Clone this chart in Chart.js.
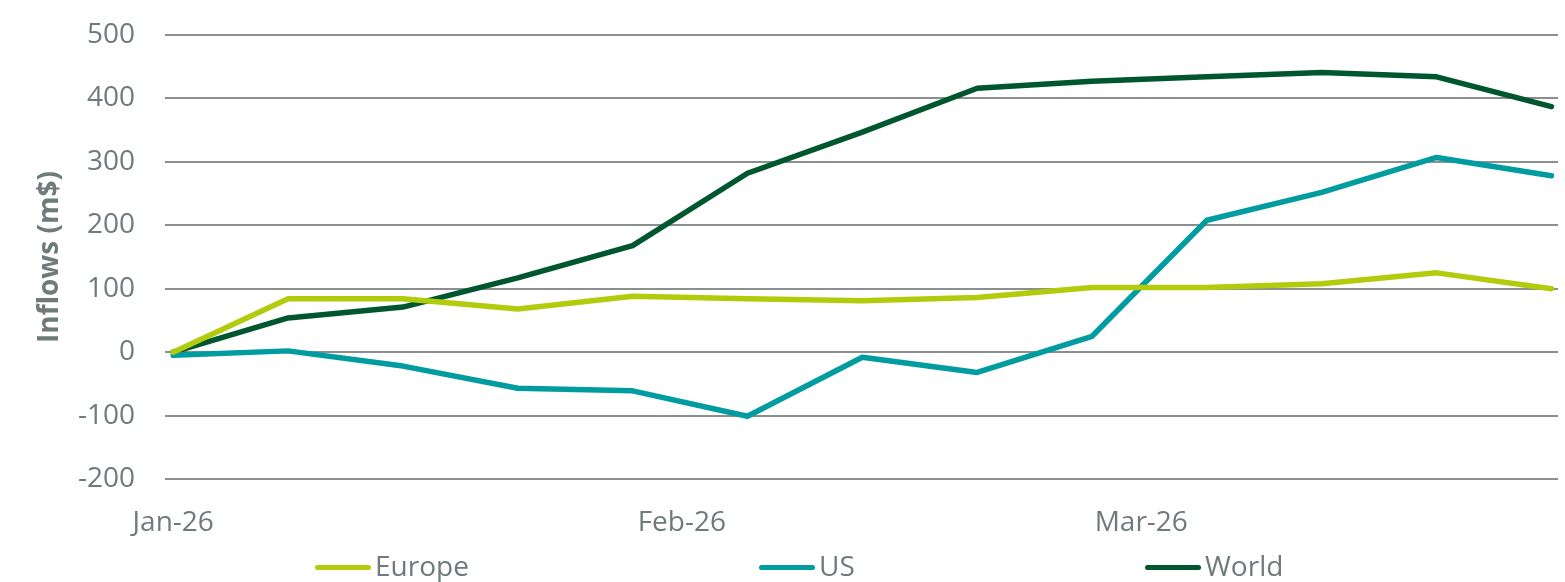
<!DOCTYPE html>
<html>
<head>
<meta charset="utf-8">
<script src="https://cdn.jsdelivr.net/npm/chart.js@4"></script>
<style>
  body { margin: 0; background: #fff; }
  #wrap { position: relative; width: 1565px; height: 582px; }
  .leg { position: absolute; top: 547px; font-family: "Open Sans", sans-serif; font-size: 28px; color: #6f7b7b; line-height: 36px; white-space: nowrap; }
  .leg span { display: inline-block; width: 56px; height: 5px; border-radius: 3px; vertical-align: middle; margin-right: 4px; position: relative; top: -1px; }
</style>
</head>
<body>
<div id="wrap">
  <canvas id="flows" width="1565" height="582"></canvas>
</div>
<script>
// weekly points, x is days since 1 Jan
const days = [0, 7, 14, 21, 28, 35, 42, 49, 56, 63, 70, 77, 84];
const europe = [0, 84, 84, 68, 88, 84, 81, 86, 102, 102, 108, 125, 100];
const us = [-5, 2, -22, -57, -61, -101, -8, -32, 25, 208, 252, 307, 278];
const world = [0, 54, 71, 117, 168, 282, 347, 416, 427, 434, 441, 434, 387];
const tickDays = [0, 31, 59];
const tickLabels = ['Jan-26', 'Feb-26', 'Mar-26'];
const seriesNames = ['Europe', 'US', 'World'];
const colors = ['#b2cb0c', '#009c9f', '#00562e'];
const legendX = [315, 759, 1145];

const grey = '#6f7b7b';
const font = { family: 'Open Sans', size: 28 };

function pts(vals) {
    return vals.map((v, i) => ({ x: days[i], y: v }));
}

const sets = [europe, us, world].map((vals, i) => ({
    label: seriesNames[i],
    data: pts(vals),
    borderColor: colors[i],
    backgroundColor: colors[i],
    borderWidth: 5.5,
    borderCapStyle: 'round',
    borderJoinStyle: 'round',
    pointRadius: 0,
    tension: 0
}));

new Chart(document.getElementById('flows'), {
    type: 'line',
    data: { datasets: sets },
    options: {
        responsive: false,
        animation: false,
        layout: { padding: { top: 35, right: 7, bottom: 40, left: 0 } },
        plugins: { legend: { display: false }, tooltip: { enabled: false } },
        scales: {
            x: {
                type: 'linear',
                min: -0.5,
                max: 84.4,
                afterBuildTicks: axis => { axis.ticks = tickDays.map(v => ({ value: v })); },
                afterFit: axis => { axis.height = 63; },
                ticks: {
                    color: grey,
                    font: font,
                    maxRotation: 0,
                    padding: 19,
                    callback: v => tickLabels[tickDays.indexOf(v)]
                },
                grid: { display: false },
                border: { display: false }
            },
            y: {
                min: -200,
                max: 500,
                afterFit: axis => {
                    axis.width = 165;
                    axis.paddingTop = 0;
                    axis.paddingBottom = 0;
                },
                ticks: { stepSize: 100, color: grey, font: font, padding: 30 },
                grid: { color: '#8a8f8f', lineWidth: 2, drawTicks: false },
                border: { display: false },
                title: {
                    display: true,
                    text: 'Inflows (m$)',
                    color: grey,
                    font: { family: 'Open Sans', size: 28, weight: 'bold' },
                    padding: { top: 33, bottom: 0 }
                }
            }
        }
    }
});

// legend below the plot
const wrap = document.getElementById('wrap');
seriesNames.forEach((name, i) => {
    const d = document.createElement('div');
    d.className = 'leg';
    d.style.left = legendX[i] + 'px';
    d.innerHTML = '<span style="background:' + colors[i] + '"></span>' + name;
    wrap.appendChild(d);
});
</script>
</body>
</html>
